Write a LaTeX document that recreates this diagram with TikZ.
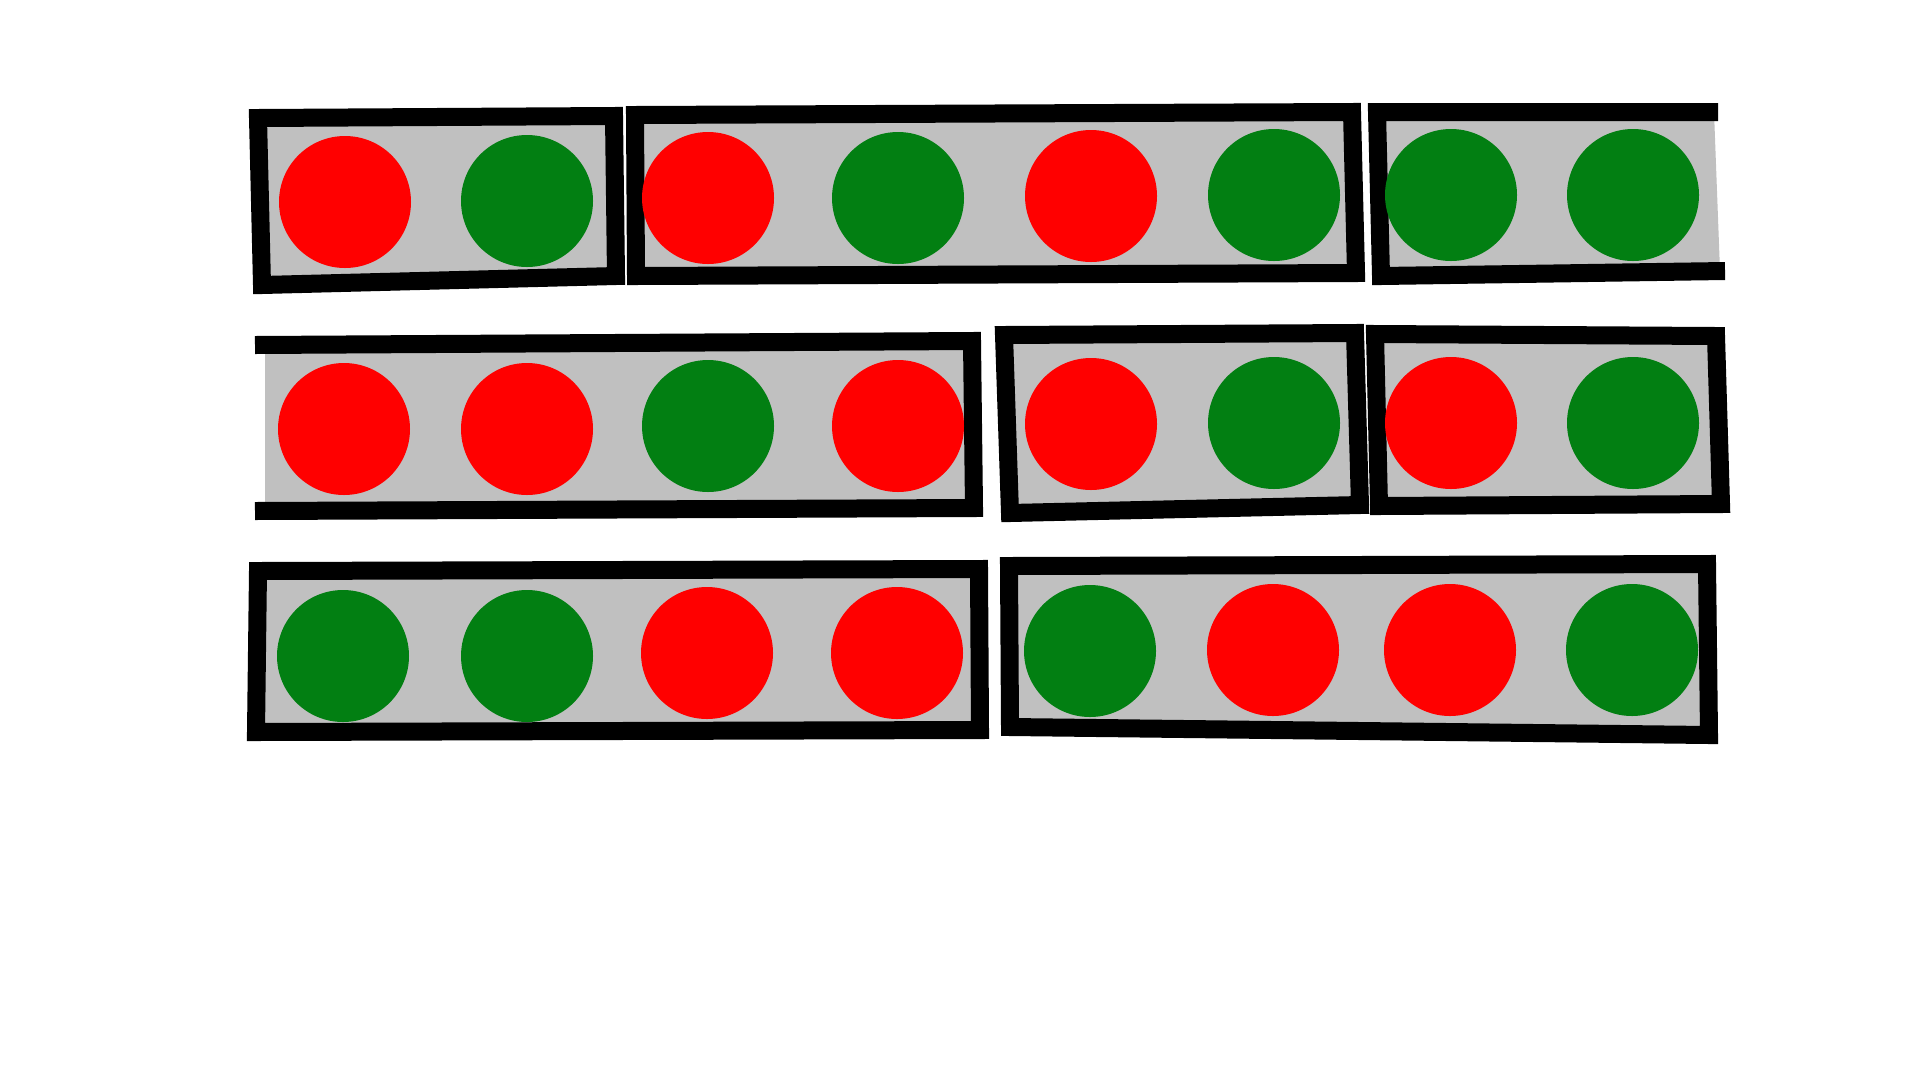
\documentclass[tikz,border=0pt]{standalone}
\definecolor{ballred}{RGB}{255,0,0}
\definecolor{ballgreen}{RGB}{2,127,18}
\definecolor{boxgray}{RGB}{192,192,192}
\tikzset{
  boxline/.style={draw=black, line width=18pt, line join=miter, line cap=butt},
  boxfill/.style={fill=boxgray},
  ball/.style={circle, minimum size=132pt, inner sep=0pt, outer sep=0pt},
  redball/.style={ball, fill=ballred},
  greenball/.style={ball, fill=ballgreen}
}
\begin{document}
\begin{tikzpicture}[x=1pt,y=-1pt]
\useasboundingbox (0,0) rectangle (1920,1080);
\fill[white] (0,0) rectangle (1920,1080);
% Row 1
\draw[boxline, boxfill] (258,118) -- (614,116) -- (616,276) -- (262,285) -- cycle;
\draw[boxline, boxfill] (635,115) -- (1352,112) -- (1356,273) -- (636,276) -- cycle;
\fill[boxfill] (1377,112) -- (1714,112) -- (1720,271) -- (1381,276) -- cycle;
\draw[boxline] (1718,112) -- (1377,112) -- (1381,276) -- (1725,271);
% Row 2
\fill[boxfill] (265,345) -- (972,341) -- (974,508) -- (265,511) -- cycle;
\draw[boxline] (255,345) -- (972,341) -- (974,508) -- (255,511);
\draw[boxline, boxfill] (1004,335) -- (1355,333) -- (1360,505) -- (1010,513) -- cycle;
\draw[boxline, boxfill] (1375,334) -- (1716,336) -- (1721,504) -- (1379,506) -- cycle;
% Row 3
\draw[boxline, boxfill] (258,571) -- (979,569) -- (980,730) -- (256,732) -- cycle;
\draw[boxline, boxfill] (1009,566) -- (1707,564) -- (1709,735) -- (1010,727) -- cycle;
% Balls row 1
\node[redball]   (r1c1) at (345,202) {};
\node[greenball] (r1c2) at (527,201) {};
\node[redball]   (r1c3) at (708,198) {};
\node[greenball] (r1c4) at (898,198) {};
\node[redball]   (r1c5) at (1091,196) {};
\node[greenball] (r1c6) at (1274,195) {};
\node[greenball] (r1c7) at (1451,195) {};
\node[greenball] (r1c8) at (1633,195) {};
% Balls row 2
\node[redball]   (r2c1) at (344,429) {};
\node[redball]   (r2c2) at (527,429) {};
\node[greenball] (r2c3) at (708,426) {};
\node[redball]   (r2c4) at (898,426) {};
\node[redball]   (r2c5) at (1091,424) {};
\node[greenball] (r2c6) at (1274,423) {};
\node[redball]   (r2c7) at (1451,423) {};
\node[greenball] (r2c8) at (1633,423) {};
% Balls row 3
\node[greenball] (r3c1) at (343,656) {};
\node[greenball] (r3c2) at (527,656) {};
\node[redball]   (r3c3) at (707,653) {};
\node[redball]   (r3c4) at (897,653) {};
\node[greenball] (r3c5) at (1090,651) {};
\node[redball]   (r3c6) at (1273,650) {};
\node[redball]   (r3c7) at (1450,650) {};
\node[greenball] (r3c8) at (1632,650) {};
\end{tikzpicture}
\end{document}
